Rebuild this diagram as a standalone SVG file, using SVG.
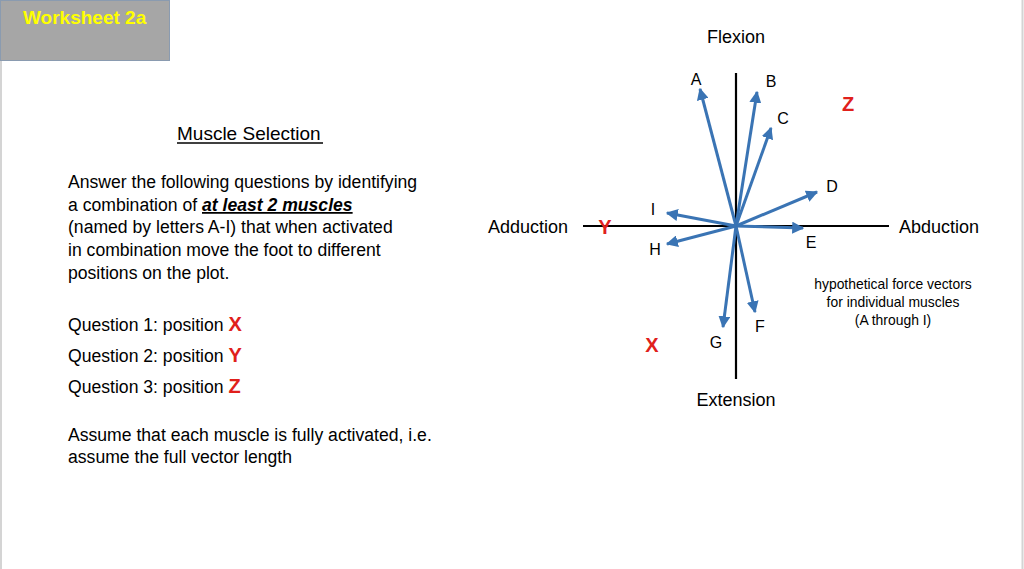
<svg xmlns="http://www.w3.org/2000/svg" width="1024" height="569" viewBox="0 0 1024 569">
<defs>
<marker id="ah" viewBox="0 0 10 10" refX="9" refY="5" markerWidth="4" markerHeight="4" orient="auto" markerUnits="strokeWidth">
<path d="M0,0 L10,5 L0,10 Z" fill="#3a74b4"/>
</marker>
</defs>
<style>
.t{font-family:"Liberation Sans",Arial,sans-serif;fill:#000}
.p{font-size:17.6px}
.lb{font-size:16px}
.ax{font-size:18px}
.red{font-family:"Liberation Sans",Arial,sans-serif;font-weight:bold;fill:#e0201b;font-size:20px}
.vec{stroke:#3a74b4;stroke-width:3;fill:none;marker-end:url(#ah)}
.axis{stroke:#000;stroke-width:2.2}
</style>
<rect x="0" y="0" width="1024" height="569" fill="#fff"/>
<line x1="1" y1="0" x2="1" y2="569" stroke="#d4d4d4" stroke-width="2"/>
<line x1="1022.5" y1="0" x2="1022.5" y2="569" stroke="#d4d4d4" stroke-width="2"/>
<g id="header">
<rect x="0.5" y="0.5" width="169" height="60" fill="#a6a6a6" stroke="#8a9bb0" stroke-width="1"/>
<text x="23" y="24" font-family="Liberation Sans,Arial,sans-serif" font-weight="bold" font-size="19" fill="#ffff00">Worksheet 2a</text>
</g>
<g id="instructions">
<text class="t" x="177" y="140" font-size="19">Muscle Selection</text>
<line x1="177" y1="143" x2="323" y2="143" stroke="#000" stroke-width="1.3"/>
<text class="t p" x="68" y="188">Answer the following questions by identifying</text>
<text class="t p" x="68" y="211">a combination of <tspan font-weight="bold" font-style="italic" text-decoration="underline">at least 2 muscles</tspan></text>
<text class="t p" x="68" y="233">(named by letters A-I) that when activated</text>
<text class="t p" x="68" y="256">in combination move the foot to different</text>
<text class="t p" x="68" y="279">positions on the plot.</text>
<text class="t p" x="68" y="331">Question 1: position <tspan class="red">X</tspan></text>
<text class="t p" x="68" y="362">Question 2: position <tspan class="red">Y</tspan></text>
<text class="t p" x="68" y="393">Question 3: position <tspan class="red">Z</tspan></text>
<text class="t p" x="68" y="441">Assume that each muscle is fully activated, i.e.</text>
<text class="t p" x="68" y="463">assume the full vector length</text>
</g>
<g id="axes">
<line class="axis" x1="583" y1="226" x2="889" y2="226"/>
<line class="axis" x1="736" y1="73" x2="736" y2="379"/>
<text class="t ax" x="736" y="43" text-anchor="middle">Flexion</text>
<text class="t ax" x="736" y="406" text-anchor="middle">Extension</text>
<text class="t ax" x="568" y="233" text-anchor="end">Adduction</text>
<text class="t ax" x="899" y="233">Abduction</text>
</g>
<g id="connectors">
<line class="vec" x1="736" y1="226" x2="700" y2="89"/>
<line class="vec" x1="736" y1="226" x2="757" y2="92"/>
<line class="vec" x1="736" y1="226" x2="771" y2="128"/>
<line class="vec" x1="736" y1="226" x2="817" y2="192"/>
<line class="vec" x1="736" y1="226" x2="803" y2="228"/>
<line class="vec" x1="736" y1="226" x2="755" y2="312"/>
<line class="vec" x1="736" y1="226" x2="723" y2="327"/>
<line class="vec" x1="736" y1="226" x2="667" y2="244"/>
<line class="vec" x1="736" y1="226" x2="667" y2="213"/>
</g>
<g id="labels">
<text class="t lb" x="696" y="85" text-anchor="middle">A</text>
<text class="t lb" x="771" y="87" text-anchor="middle">B</text>
<text class="t lb" x="783" y="124" text-anchor="middle">C</text>
<text class="t lb" x="832" y="192" text-anchor="middle">D</text>
<text class="t lb" x="811" y="248" text-anchor="middle">E</text>
<text class="t lb" x="760" y="332" text-anchor="middle">F</text>
<text class="t lb" x="716" y="348" text-anchor="middle">G</text>
<text class="t lb" x="655" y="255" text-anchor="middle">H</text>
<text class="t lb" x="653" y="215" text-anchor="middle">I</text>
</g>
<g id="positions">
<text class="red" x="848" y="111" text-anchor="middle">Z</text>
<text class="red" x="652" y="352" text-anchor="middle">X</text>
<text class="red" x="605" y="234" text-anchor="middle">Y</text>
</g>
<g id="note">
<text class="t" x="893" y="289" text-anchor="middle" font-size="13.9">hypothetical force vectors</text>
<text class="t" x="893" y="307" text-anchor="middle" font-size="13.9">for individual muscles</text>
<text class="t" x="893" y="325" text-anchor="middle" font-size="13.9">(A through I)</text>
</g>
</svg>
